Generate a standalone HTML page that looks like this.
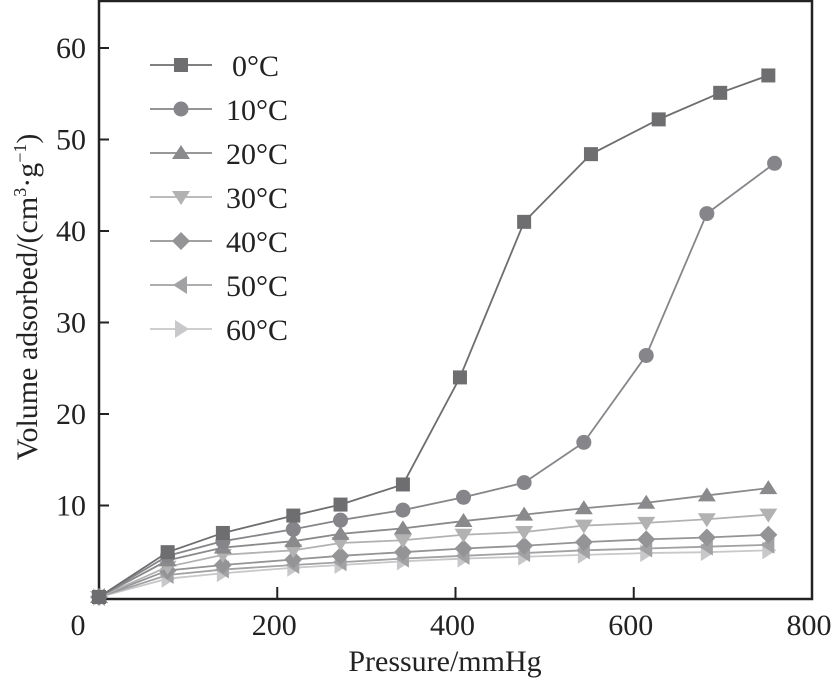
<!DOCTYPE html>
<html><head><meta charset="utf-8"><style>
html,body{margin:0;padding:0;background:#fff;}
svg{display:block;font-family:"Liberation Serif",serif;}
</style></head><body>
<svg id="chart" width="838" height="681" xmlns="http://www.w3.org/2000/svg"></svg>
<script>
const pressures0 = [0,77,139,218,271,341,405,477,552,628,697,751];
const pressures10 = [0,77,139,218,271,341,409,477,544,614,682,758];
const pressuresOther = [0,77,139,218,271,341,409,477,544,614,682,751];
const v0 = [0,4.9,7.0,8.9,10.1,12.3,24.0,41.0,48.4,52.2,55.1,57.0];
const v10 = [0,4.5,6.1,7.4,8.4,9.5,10.9,12.5,16.9,26.4,41.9,47.4];
const v20 = [0,4.0,5.4,6.1,6.9,7.5,8.3,9.0,9.7,10.3,11.1,11.9];
const v30 = [0,3.3,4.6,5.1,5.9,6.2,6.8,7.1,7.8,8.1,8.5,9.0];
const v40 = [0,2.9,3.5,4.1,4.5,4.9,5.3,5.6,6.0,6.3,6.5,6.8];
const v50 = [0,2.4,3.0,3.5,3.8,4.2,4.5,4.8,5.1,5.3,5.5,5.7];
const v60 = [0,2.0,2.6,3.2,3.5,3.9,4.2,4.4,4.6,4.8,4.9,5.1];
const seriesNames = ["0°C","10°C","20°C","30°C","40°C","50°C","60°C"];
const xTicks = [0,200,400,600,800];
const yTicks = [10,20,30,40,50,60];

const NS="http://www.w3.org/2000/svg";
const svg=document.getElementById('chart');
const X0=99,X1=812,Y0=597,YT=1;
const FS=30;
const sx=p=>X0+(p/800)*(X1-X0);
const sy=v=>Y0-v*9.15;
function mk(tag,attrs,parent){const e=document.createElementNS(NS,tag);for(const k in attrs)e.setAttribute(k,attrs[k]);(parent||svg).appendChild(e);return e;}

const frame=mk('rect',{x:X0,y:YT,width:X1-X0,height:Y0+2-YT,fill:'none',stroke:'#222','stroke-width':2.5});



xTicks.forEach(t=>{
  if(t>0&&t<800){const l=mk('line',{x1:sx(t),x2:sx(t),y1:Y0+1,y2:Y0-10,stroke:'#222','stroke-width':2});
  
  }
  const tx=mk('text',{x:t===0?78:sx(t)-3,y:635,'font-size':FS,'text-anchor':'middle',fill:'#222'});
  tx.textContent=t;
  
  
});
yTicks.forEach(t=>{
  const l=mk('line',{x1:X0,x2:X0+10,y1:sy(t),y2:sy(t),stroke:'#222','stroke-width':2});
  
  
  const tx=mk('text',{x:86,y:sy(t)+10,'font-size':FS,'text-anchor':'end',fill:'#222'});
  tx.textContent=t;
  
  
});
const xt=mk('text',{x:445,y:671,'font-size':FS,'text-anchor':'middle',fill:'#222'});
xt.textContent='Pressure/mmHg';


const yt=mk('text',{x:0,y:0,'font-size':FS,'text-anchor':'middle',fill:'#222',transform:'translate(37,297) rotate(-90)'});
yt.innerHTML='Volume adsorbed/(cm<tspan font-size="18" dy="-11">3</tspan><tspan dy="11">·g</tspan><tspan font-size="18" dy="-11">−1</tspan><tspan dy="11">)</tspan>';



const colors=['#6e6e70','#86868a','#8a8a8c','#b2b2b2','#949496','#a2a2a4','#c8c8ca'];
const shapes=['square','circle','up','down','diamond','left','right'];
const data=[[pressures0,v0],[pressures10,v10],[pressuresOther,v20],[pressuresOther,v30],[pressuresOther,v40],[pressuresOther,v50],[pressuresOther,v60]];
function marker(shape,x,y,c,g){
  const r=8;let e;
  if(shape==='square')e=mk('rect',{x:x-7,y:y-7,width:14,height:14,fill:c},g);
  else if(shape==='circle')e=mk('circle',{cx:x,cy:y,r:7.5,fill:c},g);
  else{let pts;
    if(shape==='up')pts=[[x,y-r],[x+r+1,y+r-2],[x-r-1,y+r-2]];
    if(shape==='down')pts=[[x,y+r],[x+r+1,y-r+2],[x-r-1,y-r+2]];
    if(shape==='diamond')pts=[[x,y-r-1],[x+r+1,y],[x,y+r+1],[x-r-1,y]];
    if(shape==='left')pts=[[x-r,y],[x+r-2,y-r-1],[x+r-2,y+r+1]];
    if(shape==='right')pts=[[x+r,y],[x-r+2,y-r-1],[x-r+2,y+r+1]];
    e=mk('polygon',{points:pts.map(p=>p.join(',')).join(' '),fill:c},g);}
  return e;
}
for(let i=data.length-1;i>=0;i--){
  const [ps,vs]=data[i];
  const g=mk('g',{});
  
  
  const line=mk('polyline',{points:ps.map((p,j)=>sx(p)+','+sy(vs[j])).join(' '),fill:'none',stroke:colors[i],'stroke-width':1.8},g);
  
  
  ps.forEach((p,j)=>{const m=marker(shapes[i],sx(p),sy(vs[j]),colors[i],g);
    
    });
}
const lg=mk('g',{});


seriesNames.forEach((n,i)=>{
  const y=65+i*44;
  const g=mk('g',{},lg);
  
  
  mk('line',{x1:150,x2:212,y1:y,y2:y,stroke:colors[i],'stroke-width':1.8},g);
  marker(shapes[i],181,y,colors[i],g);
  const t=mk('text',{x:i===0?232:226,y:y+11,'font-size':FS,fill:'#222'},g);
  t.textContent=n;
});
</script>
</body></html>
